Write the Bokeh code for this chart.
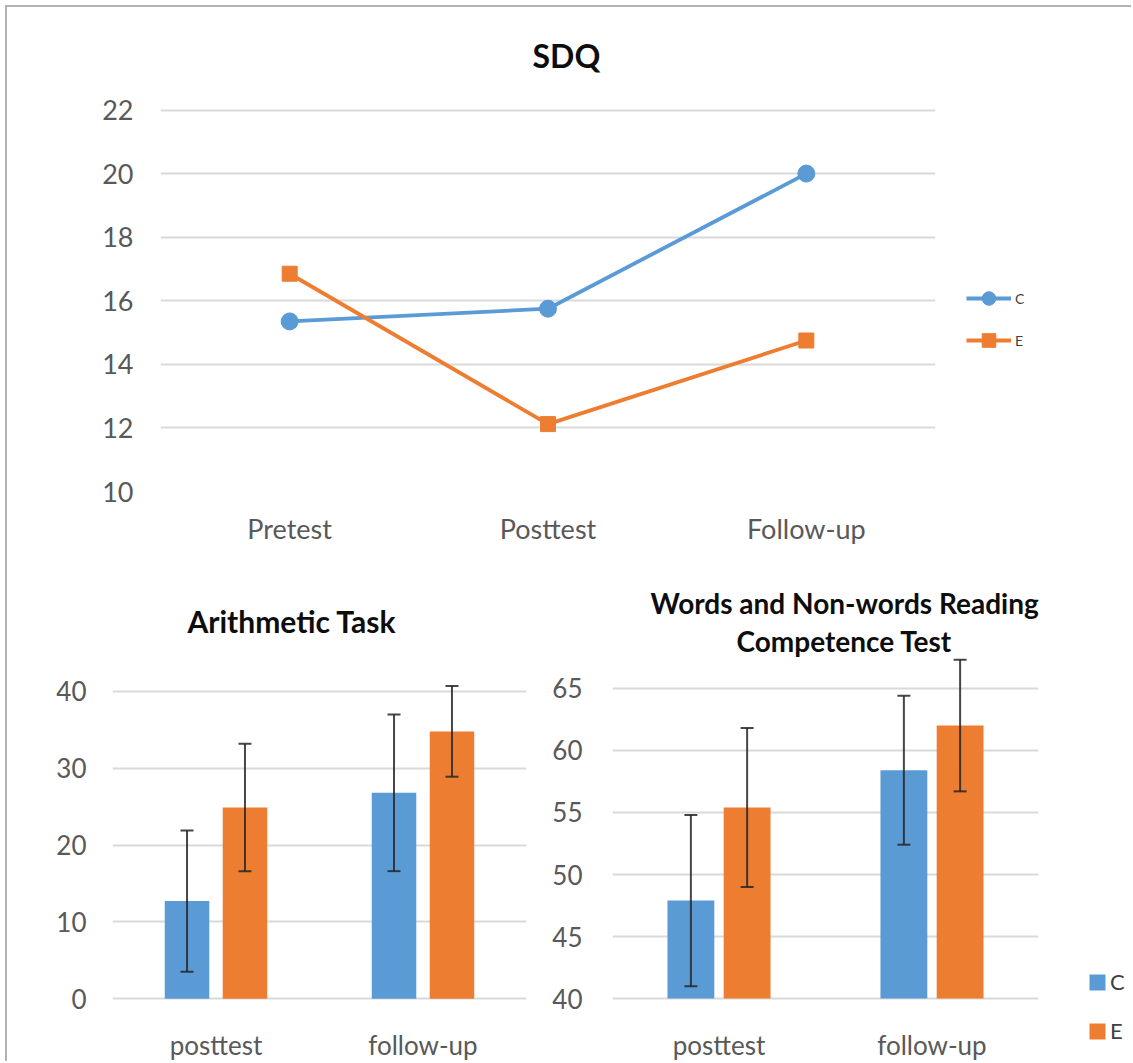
from bokeh.plotting import figure
from bokeh.models import (ColumnDataSource, Range1d, FactorRange, FixedTicker,
                          Legend, LegendItem, Whisker, TeeHead, Title)
from bokeh.transform import dodge
from bokeh.layouts import column, row
from bokeh.embed import file_html
from bokeh.resources import INLINE

FONT = "Lato"
BLUE = "#5B9BD5"
ORANGE = "#ED7D31"
TICK_COLOR = "#595959"
GRID_COLOR = "#d9d9d9"

# ---- SDQ (line chart) ----
sdq_phases = ["Pretest", "Posttest", "Follow-up"]
sdq_c = [15.35, 15.75, 20.0]
sdq_e = [16.85, 12.12, 14.75]
sdq_ticks = [10, 12, 14, 16, 18, 20, 22]

# ---- bar charts ----
groups = ["C", "E"]
bar_phases = ["posttest", "follow-up"]
arith_c = [12.7, 26.8]
arith_c_err = [9.2, 10.2]
arith_e = [24.9, 34.8]
arith_e_err = [8.3, 5.9]
arith_ticks = [0, 10, 20, 30, 40]

read_c = [47.9, 58.4]
read_c_err = [6.9, 6.0]
read_e = [55.4, 62.0]
read_e_err = [6.4, 5.3]
read_ticks = [40, 45, 50, 55, 60, 65]

NAN = float("nan")


def style_axes(p, ticks, y_standoff, x_standoff, size):
    p.outline_line_color = None
    p.background_fill_color = "white"
    p.border_fill_color = "white"
    p.xgrid.grid_line_color = None
    p.yaxis.ticker = FixedTicker(ticks=ticks)
    p.ygrid.grid_line_color = GRID_COLOR
    p.ygrid.grid_line_width = 2
    for ax in (p.xaxis[0], p.yaxis[0]):
        ax.axis_line_color = None
        ax.major_tick_line_color = None
        ax.minor_tick_line_color = None
        ax.major_tick_out = 0
        ax.major_tick_in = 0
        ax.major_label_text_font = FONT
        ax.major_label_text_font_size = size
        ax.major_label_text_color = TICK_COLOR
    p.yaxis.major_label_standoff = y_standoff
    p.xaxis.major_label_standoff = x_standoff


def add_title(p, text, size, offset, standoff):
    t = Title(text=text, align="left", offset=offset, standoff=standoff,
              text_font=FONT, text_font_size=size, text_font_style="bold",
              text_color="#0d0d0d")
    p.add_layout(t, "above")


def legend_panel(width, height, borders):
    """Blank strip that only hosts a legend."""
    p = figure(width=width, height=height, x_range=Range1d(0, 1), y_range=Range1d(0, 1),
               x_axis_location=None, y_axis_location=None,
               output_backend="svg", toolbar_location=None,
               min_border_left=0, min_border_right=0,
               min_border_top=borders[0], min_border_bottom=borders[1])
    p.grid.visible = False
    p.outline_line_color = None
    p.background_fill_color = "white"
    p.border_fill_color = "white"
    return p


def legend_style(size):
    return dict(orientation="vertical", padding=0, margin=0,
                border_line_color=None, background_fill_alpha=0,
                label_text_font=FONT, label_text_font_size=size,
                label_text_color="#404040")


# ---------------- SDQ ----------------
top = figure(width=950, height=558, x_range=FactorRange(*sdq_phases, range_padding=0),
             y_range=Range1d(10, 22.3), output_backend="svg", toolbar_location=None,
             min_border_left=153, min_border_right=22, min_border_top=90,
             min_border_bottom=74)
style_axes(top, sdq_ticks, 27, 20, "27px")
add_title(top, "SDQ", "32px", 372, 52)

src_sdq = ColumnDataSource(dict(phase=sdq_phases, c=sdq_c, e=sdq_e))
top.line("phase", "c", source=src_sdq, line_color=BLUE, line_width=3.8)
top.scatter("phase", "c", source=src_sdq, marker="circle", size=17,
            fill_color=BLUE, line_color=BLUE)
top.line("phase", "e", source=src_sdq, line_color=ORANGE, line_width=3.8)
top.scatter("phase", "e", source=src_sdq, marker="square", size=15,
            fill_color=ORANGE, line_color=ORANGE)

# legend strip beside the SDQ chart; its renderers carry no drawable point
blank = ColumnDataSource(dict(x=[NAN], y=[NAN]))
leg_top = legend_panel(176, 558, (90, 74))
lc = leg_top.line("x", "y", source=blank, line_color=BLUE, line_width=3.8)
mc = leg_top.scatter("x", "y", source=blank, marker="circle", size=17,
                     fill_color=BLUE, line_color=BLUE)
le = leg_top.line("x", "y", source=blank, line_color=ORANGE, line_width=3.8)
me = leg_top.scatter("x", "y", source=blank, marker="square", size=15,
                     fill_color=ORANGE, line_color=ORANGE)
leg_top.add_layout(Legend(items=[LegendItem(label=groups[0], renderers=[lc, mc], index=0),
                                 LegendItem(label=groups[1], renderers=[le, me], index=0)],
                          location=(9, 134), glyph_width=45, glyph_height=34,
                          label_height=20, spacing=8, label_standoff=4,
                          **legend_style("14px")))


def bar_chart(width, height, yr, ticks, mb, c_vals, c_err, e_vals, e_err,
              off, bw, y_standoff):
    p = figure(width=width, height=height,
               x_range=FactorRange(*bar_phases, range_padding=0),
               y_range=Range1d(*yr), output_backend="svg", toolbar_location=None,
               min_border_left=mb[0], min_border_right=mb[1],
               min_border_top=mb[2], min_border_bottom=mb[3])
    style_axes(p, ticks, y_standoff, -19, "26px")
    src = ColumnDataSource(dict(
        cat=bar_phases, c=c_vals, e=e_vals,
        c_lo=[v - d for v, d in zip(c_vals, c_err)],
        c_hi=[v + d for v, d in zip(c_vals, c_err)],
        e_lo=[v - d for v, d in zip(e_vals, e_err)],
        e_hi=[v + d for v, d in zip(e_vals, e_err)]))
    base = ticks[0]
    p.vbar(x=dodge("cat", -off, range=p.x_range), top="c", bottom=base,
           width=bw, source=src, fill_color=BLUE, line_color=None)
    p.vbar(x=dodge("cat", off, range=p.x_range), top="e", bottom=base,
           width=bw, source=src, fill_color=ORANGE, line_color=None)
    for key, o in (("c", -off), ("e", off)):
        w = Whisker(source=src, base=dodge("cat", o, range=p.x_range),
                    lower=f"{key}_lo", upper=f"{key}_hi", level="overlay",
                    line_color="#262626", line_alpha=0.85, line_width=2,
                    upper_head=TeeHead(size=13, line_color="#262626", line_width=2,
                                       line_alpha=0.85),
                    lower_head=TeeHead(size=13, line_color="#262626", line_width=2,
                                       line_alpha=0.85))
        p.add_layout(w)
    return p


# the bottom frames run down past the baseline so the category labels
# and the legend sit inside the shared frame band
BOT_H = 498
left = bar_chart(538, BOT_H, (-6.36, 45.2), arith_ticks, (105, 19, 86, 15),
                 arith_c, arith_c_err, arith_e, arith_e_err, 0.14, 0.215, 26)
add_title(left, "Arithmetic Task", "30px", 75, 26)

right = bar_chart(530, BOT_H, (36.06, 67.97), read_ticks, (67, 37, 86, 15),
                  read_c, read_c_err, read_e, read_e_err, 0.132, 0.22, 30)
add_title(right, "Competence Test", "28px", 124, -12)
add_title(right, "Words and Non-words Reading", "28px", 38, 15)

leg_bot = legend_panel(58, BOT_H, (86, 15))
rc = leg_bot.vbar(x="x", top="y", width=0.1, source=blank, fill_color=BLUE, line_color=None)
re_ = leg_bot.vbar(x="x", top="y", width=0.1, source=blank, fill_color=ORANGE, line_color=None)
leg_bot.add_layout(Legend(items=[LegendItem(label=groups[0], renderers=[rc], index=0),
                                 LegendItem(label=groups[1], renderers=[re_], index=0)],
                          location=(12, 3), glyph_width=20, glyph_height=20,
                          label_height=20, spacing=22, label_standoff=3,
                          **legend_style("22px")))

# thin frame along the top and left edges of the whole figure
layout = column(row(top, leg_top, spacing=0),
                row(left, right, leg_bot, spacing=0), spacing=0,
                margin=(7, 0, 0, 7),
                styles={"box-shadow": "-2px -2px 0 0 #b3b3b3"})

open("out.html", "w").write(file_html(layout, INLINE))
